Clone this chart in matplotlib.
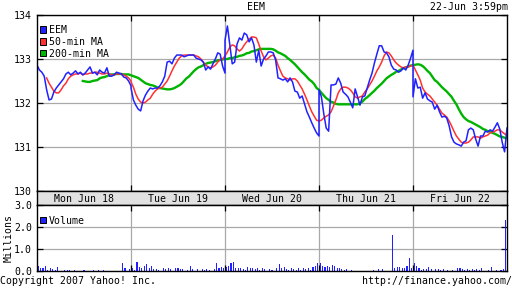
import matplotlib.pyplot as plt
import numpy as np
from matplotlib.patches import Patch

nan = np.nan

days = ['Mon Jun 18', 'Tue Jun 19', 'Wed Jun 20', 'Thu Jun 21', 'Fri Jun 22']

# EEM price, 10-minute steps from 9:30 to 16:00 each day
eem_mon = [132.86, 132.75, 132.70, 132.61, 132.30, 132.07, 132.09, 132.25, 132.34, 132.41,
           132.48, 132.55, 132.66, 132.70, 132.64, 132.68, 132.73, 132.66, 132.70, 132.64,
           132.68, 132.75, 132.82, 132.68, 132.70, 132.64, 132.75, 132.70, 132.68, 132.80,
           132.61, 132.61, 132.64, 132.70, 132.68, 132.66, 132.59, 132.57, 132.50, 132.39]
eem_tue = [132.34, 132.07, 131.95, 131.86, 131.82, 132.05, 132.18, 132.27, 132.34, 132.32,
           132.34, 132.34, 132.39, 132.48, 132.61, 132.93, 132.95, 132.89, 133.02, 133.09,
           133.09, 133.09, 133.05, 133.07, 133.09, 133.09, 133.09, 133.02, 133.00, 132.98,
           132.93, 132.75, 132.82, 132.77, 132.89, 133.00, 133.14, 133.11, 132.84, 132.68]
eem_wed = [133.43, 133.75, 133.32, 132.89, 132.93, 133.34, 133.48, 133.43, 133.59, 133.55,
           133.39, 133.48, 133.32, 132.93, 133.20, 132.84, 133.00, 133.07, 133.16, 133.16,
           133.14, 132.98, 132.57, 132.55, 132.52, 132.55, 132.48, 132.57, 132.48, 132.27,
           132.25, 132.11, 132.16, 131.98, 131.80, 131.68, 131.55, 131.43, 131.32, 131.25]
eem_thu = [132.30, 132.14, 131.75, 131.43, 131.36, 132.41, 132.41, 132.43, 132.57, 132.45,
           132.25, 132.20, 132.14, 132.02, 131.89, 132.32, 132.14, 131.95, 132.14, 132.16,
           132.34, 132.52, 132.68, 132.91, 133.11, 133.30, 133.30, 133.16, 133.14, 133.05,
           132.86, 132.77, 132.75, 132.70, 132.73, 132.80, 132.75, 132.86, 133.02, 133.20]
eem_fri = [132.14, 132.55, 132.34, 132.36, 132.11, 132.23, 132.09, 132.05, 132.02, 131.86,
           131.95, 131.80, 131.68, 131.70, 131.66, 131.48, 131.23, 131.11, 131.07, 131.05,
           131.02, 131.11, 131.14, 131.39, 131.43, 131.39, 131.18, 131.02, 131.25, 131.25,
           131.36, 131.34, 131.39, 131.36, 131.45, 131.55, 131.41, 131.11, 130.89, 131.43]

ma50_mon = [nan, nan, nan, nan, 132.57, 132.45, 132.36, 132.27, 132.23, 132.23,
            132.30, 132.39, 132.45, 132.55, 132.61, 132.64, 132.66, 132.66, 132.68, 132.64,
            132.66, 132.66, 132.68, 132.68, 132.70, 132.70, 132.68, 132.66, 132.66, 132.68,
            132.66, 132.64, 132.64, 132.66, 132.66, 132.66, 132.64, 132.61, 132.57, 132.50]
ma50_tue = [132.48, 132.36, 132.20, 132.09, 132.02, 132.00, 132.02, 132.07, 132.11, 132.20,
            132.27, 132.32, 132.34, 132.36, 132.43, 132.50, 132.61, 132.73, 132.84, 132.93,
            133.02, 133.07, 133.09, 133.09, 133.09, 133.09, 133.09, 133.07, 133.05, 133.00,
            132.93, 132.86, 132.82, 132.80, 132.82, 132.86, 132.93, 132.98, 133.00, 133.07]
ma50_wed = [133.07, 133.16, 133.27, 133.32, 133.30, 133.23, 133.18, 133.23, 133.32, 133.39,
            133.45, 133.50, 133.50, 133.48, 133.34, 133.18, 133.05, 132.98, 133.02, 133.07,
            133.09, 133.02, 132.86, 132.73, 132.61, 132.57, 132.55, 132.52, 132.55, 132.55,
            132.50, 132.41, 132.32, 132.20, 132.07, 131.93, 131.80, 131.70, 131.61, 131.59]
ma50_thu = [131.59, 131.61, 131.66, 131.70, 131.73, 131.80, 131.93, 132.07, 132.23, 132.32,
            132.36, 132.36, 132.34, 132.30, 132.23, 132.14, 132.11, 132.14, 132.16, 132.25,
            132.32, 132.41, 132.50, 132.61, 132.73, 132.82, 132.93, 133.07, 133.16, 133.14,
            133.07, 132.98, 132.91, 132.86, 132.82, 132.80, 132.82, 132.82, 132.84, 132.86]
ma50_fri = [132.86, 132.75, 132.64, 132.52, 132.34, 132.25, 132.20, 132.16, 132.09, 132.02,
            131.95, 131.86, 131.77, 131.73, 131.68, 131.59, 131.48, 131.36, 131.25, 131.18,
            131.11, 131.09, 131.09, 131.11, 131.16, 131.23, 131.23, 131.23, 131.20, 131.23,
            131.25, 131.27, 131.32, 131.34, 131.36, 131.39, 131.39, 131.34, 131.30, 131.27]

ma200_mon = [nan, nan, nan, nan, nan, nan, nan, nan, nan, nan,
             nan, nan, nan, nan, nan, nan, nan, nan, nan, 132.50,
             132.49, 132.48, 132.48, 132.50, 132.51, 132.52, 132.56, 132.58, 132.59, 132.61,
             132.64, 132.65, 132.65, 132.66, 132.66, 132.66, 132.65, 132.65, 132.65, 132.63]
ma200_tue = [132.63, 132.61, 132.59, 132.57, 132.53, 132.49, 132.45, 132.43, 132.41, 132.40,
             132.38, 132.35, 132.34, 132.33, 132.32, 132.31, 132.31, 132.32, 132.34, 132.37,
             132.40, 132.44, 132.50, 132.56, 132.60, 132.66, 132.72, 132.77, 132.81, 132.83,
             132.86, 132.89, 132.91, 132.92, 132.93, 132.95, 132.97, 132.98, 132.99, 133.00]
ma200_wed = [133.00, 133.00, 133.02, 133.02, 133.04, 133.05, 133.07, 133.08, 133.10, 133.13,
             133.14, 133.17, 133.18, 133.20, 133.22, 133.23, 133.23, 133.23, 133.23, 133.23,
             133.22, 133.19, 133.15, 133.13, 133.10, 133.07, 133.02, 132.98, 132.93, 132.88,
             132.82, 132.76, 132.70, 132.65, 132.59, 132.53, 132.49, 132.43, 132.34, 132.30]
ma200_thu = [132.30, 132.23, 132.17, 132.11, 132.07, 132.03, 132.01, 131.98, 131.97, 131.97,
             131.97, 131.97, 131.97, 131.97, 131.97, 131.97, 131.97, 132.00, 132.03, 132.09,
             132.13, 132.18, 132.23, 132.28, 132.34, 132.39, 132.44, 132.50, 132.56, 132.60,
             132.64, 132.67, 132.71, 132.73, 132.76, 132.79, 132.81, 132.83, 132.85, 132.86]
ma200_fri = [132.86, 132.87, 132.88, 132.87, 132.84, 132.79, 132.73, 132.68, 132.60, 132.52,
             132.48, 132.42, 132.36, 132.31, 132.26, 132.20, 132.14, 132.05, 131.97, 131.86,
             131.76, 131.68, 131.63, 131.59, 131.57, 131.54, 131.51, 131.48, 131.45, 131.41,
             131.39, 131.36, 131.35, 131.32, 131.30, 131.27, 131.24, 131.23, 131.21, 131.20]

# volume in millions, one bar per 10 minutes
vol_mon = [0.23, 0.15, 0.15, 0.23, 0.05, 0.15, 0.08, 0.03, 0.18, 0.02, 0.02, 0.05, 0.05,
           0.05, 0.01, 0.05, 0.01, 0.0, 0.01, 0.03, 0.0, 0.01, 0.0, 0.05, 0.01, 0.05,
           0.0, 0.05, 0.0, 0.01, 0.0, 0.0, 0.01, 0.0, 0.02, 0.38, 0.15, 0.02, 0.08]
vol_tue = [0.15, 0.05, 0.43, 0.18, 0.15, 0.23, 0.30, 0.15, 0.23, 0.08, 0.08, 0.03, 0.02,
           0.12, 0.10, 0.15, 0.08, 0.02, 0.15, 0.12, 0.10, 0.08, 0.02, 0.03, 0.23, 0.08,
           0.02, 0.08, 0.02, 0.08, 0.06, 0.08, 0.03, 0.02, 0.08, 0.38, 0.15, 0.18, 0.12]
vol_wed = [0.18, 0.23, 0.38, 0.43, 0.15, 0.12, 0.12, 0.10, 0.03, 0.18, 0.15, 0.12, 0.08,
           0.12, 0.03, 0.15, 0.08, 0.02, 0.08, 0.06, 0.02, 0.15, 0.34, 0.15, 0.18, 0.08,
           0.03, 0.12, 0.08, 0.06, 0.15, 0.05, 0.12, 0.10, 0.12, 0.05, 0.18, 0.23, 0.38]
vol_thu = [0.38, 0.23, 0.18, 0.23, 0.18, 0.28, 0.23, 0.15, 0.12, 0.08, 0.03, 0.08, 0.02,
           0.05, 0.02, 0.0, 0.02, 0.0, 0.02, 0.0, 0.02, 0.0, 0.05, 0.02, 0.08, 0.0,
           0.08, 0.02, 0.0, 0.02, 1.64, 0.15, 0.18, 0.18, 0.12, 0.15, 0.23, 0.60, 0.15]
vol_fri = [0.38, 0.23, 0.15, 0.05, 0.08, 0.08, 0.18, 0.08, 0.02, 0.08, 0.08, 0.05, 0.08,
           0.02, 0.05, 0.02, 0.05, 0.0, 0.15, 0.12, 0.08, 0.05, 0.08, 0.05, 0.08, 0.05,
           0.08, 0.05, 0.15, 0.02, 0.0, 0.05, 0.18, 0.02, 0.05, 0.02, 0.05, 0.08, 2.30]

eem = np.array(eem_mon + eem_tue + eem_wed + eem_thu + eem_fri)
ma50 = np.array(ma50_mon + ma50_tue + ma50_wed + ma50_thu + ma50_fri)
ma200 = np.array(ma200_mon + ma200_tue + ma200_wed + ma200_thu + ma200_fri)
vol = np.array(vol_mon + vol_tue + vol_wed + vol_thu + vol_fri)

# trading minutes since monday open (390 per day)
t = np.concatenate([d * 390 + np.arange(40) * 10 for d in range(5)])
tv = np.concatenate([d * 390 + np.arange(39) * 10 + 5 for d in range(5)])

blue = '#2121ff'
red = '#ff3131'
green = '#00b400'
gridc = '#a9a9a9'

plt.rcParams['font.family'] = 'DejaVu Sans Mono'
plt.rcParams['font.size'] = 7.1

fig = plt.figure(figsize=(5.12, 2.88), dpi=100)

def box(l, t_, r, b):
    return [l / 512, 1 - b / 288, (r - l) / 512, (b - t_) / 288]

ax = fig.add_axes(box(37, 15, 507, 191))
band = fig.add_axes(box(37, 191, 507, 205))
axv = fig.add_axes(box(37, 205, 507, 271))

# price panel
ax.plot(t, ma200, color=green, lw=1.7)
ax.plot(t, ma50, color=red, lw=1.1)
ax.plot(t, eem, color=blue, lw=1.1)
ax.set_xlim(0, 1950)
ax.set_ylim(130, 134)
ax.set_yticks([130, 131, 132, 133, 134])
ax.set_xticks([390, 780, 1170, 1560])
ax.grid(True, color=gridc, lw=0.9)
ax.set_axisbelow(True)
ax.tick_params(axis='y', direction='in', length=4, width=0.9, right=True, pad=3.5)
ax.tick_params(axis='x', direction='in', length=4, width=0.9, top=True, labelbottom=False)
for s in ax.spines.values():
    s.set_linewidth(1.0)

leg_handles = [Patch(facecolor=blue, edgecolor='black', lw=0.7, label='EEM'),
               Patch(facecolor=red, edgecolor='black', lw=0.7, label='50-min MA'),
               Patch(facecolor=green, edgecolor='black', lw=0.7, label='200-min MA')]
ax.legend(handles=leg_handles, loc='upper left', bbox_to_anchor=(0.002, 0.955), frameon=False,
          handlelength=0.6, handleheight=0.6, handletextpad=0.3, labelspacing=0.2,
          borderaxespad=0.0, borderpad=0.2)

# date band
band.set_xlim(0, 1950)
band.set_ylim(0, 1)
band.set_facecolor('#e1e1e1')
band.set_xticks([])
band.set_yticks([])
for s in band.spines.values():
    s.set_linewidth(1.0)
for d, name in enumerate(days):
    band.text(d * 390 + 195, 0.45, name, ha='center', va='center')

# volume panel
axv.bar(tv, vol, width=4.5, color=blue, linewidth=0)
axv.set_xlim(0, 1950)
axv.set_ylim(0, 3)
axv.set_yticks([0, 1, 2, 3])
axv.set_yticklabels(['0.0', '1.0', '2.0', '3.0'])
axv.set_xticks([390, 780, 1170, 1560])
axv.grid(True, color=gridc, lw=0.9)
axv.set_axisbelow(True)
axv.tick_params(axis='y', direction='in', length=4, width=0.9, right=True, pad=3.5)
axv.tick_params(axis='x', direction='in', length=4, width=0.9, top=True, labelbottom=False)
for s in axv.spines.values():
    s.set_linewidth(1.0)
axv.set_ylabel('Millions')
axv.yaxis.set_label_coords(-0.05, 0.5)
axv.legend(handles=[Patch(facecolor=blue, edgecolor='black', lw=0.7, label='Volume')],
           loc='upper left', bbox_to_anchor=(0.002, 0.87), frameon=False,
           handlelength=0.6, handleheight=0.6, handletextpad=0.3,
           borderaxespad=0.0, borderpad=0.2)

fig.text(0.5, 1 - 7 / 288, 'EEM', ha='center', va='center')
fig.text(508 / 512, 1 - 7 / 288, '22-Jun 3:59pm', ha='right', va='center')
fig.text(0.0, 1 - 281 / 288, 'Copyright 2007 Yahoo! Inc.', ha='left', va='center')
fig.text(1.0, 1 - 281 / 288, 'http://finance.yahoo.com/', ha='right', va='center')

fig.savefig('out.png', dpi=100)
